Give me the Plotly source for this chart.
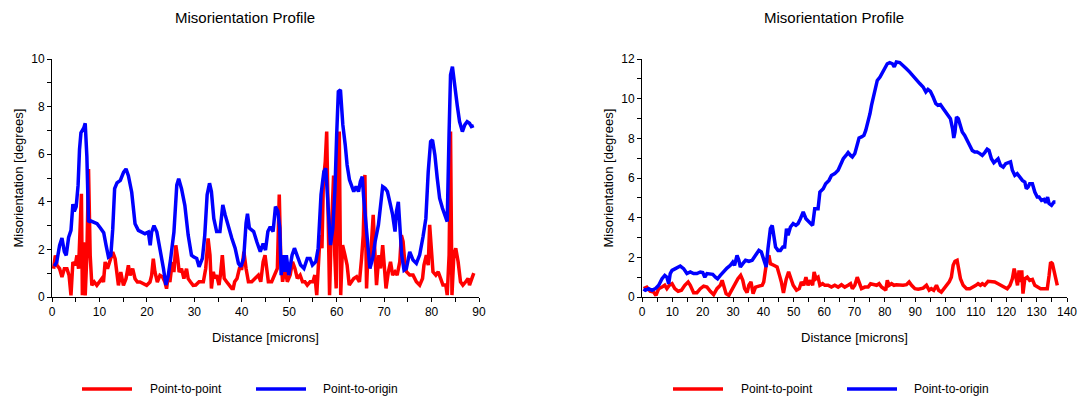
import plotly.graph_objects as go

# ---------------- Data ----------------
left_p2o_x = [0.5, 1.0, 1.6, 2.1, 2.6, 3.0, 3.5, 4.0, 4.4, 4.7, 5.1, 5.5, 5.8, 6.1, 6.7, 7.0, 7.35, 7.7, 8.1, 8.8,
              9.5, 10.2, 10.9, 11.4, 11.9, 12.4, 12.8, 13.2, 13.7, 14.4, 15.1, 15.6, 16.1, 16.8, 17.5, 18.2, 18.9,
              19.6, 20.3, 20.7, 21.0, 21.5, 22.1, 22.8, 23.5, 24.0, 24.5, 25.0, 25.7, 26.3, 26.7, 27.3, 28.0, 28.7,
              29.4, 29.9, 30.5, 31.0, 31.7, 32.2, 32.7, 33.2, 33.6, 34.1, 34.7, 35.4, 36.0, 36.5, 37.2, 37.9, 38.6,
              39.3, 39.8, 40.4, 40.9, 41.2, 41.6, 42.5, 43.2, 43.9, 44.5, 45.0, 45.5, 46.0, 46.6, 47.1, 47.6, 48.0,
              48.3, 48.7, 49.1, 49.4, 49.9, 50.6, 51.1, 51.7, 52.4, 53.1, 53.8, 54.4, 54.9, 55.6, 56.1, 56.7, 57.3,
              57.7, 58.1, 58.7, 59.2, 59.65, 60.0, 60.35, 60.8, 61.3, 61.8, 62.2, 62.7, 63.2, 63.6, 64.1, 64.6, 65.0,
              65.4, 65.7, 66.2, 66.7, 67.0, 67.6, 68.1, 68.8, 69.25, 69.7, 70.2, 70.7, 71.2, 71.8, 72.3, 72.6, 73.0,
              73.3, 73.7, 74.2, 74.7, 75.4, 76.1, 76.8, 77.5, 78.2, 78.8, 79.3, 79.8, 80.2, 80.7, 81.2, 81.7, 82.3,
              82.8, 83.3, 83.7, 84.0, 84.4, 84.9, 85.4, 85.9, 86.5, 87.0, 87.5, 88.0, 88.4, 88.9]
left_p2o_y = [1.3, 1.47, 2.17, 2.48, 1.9, 1.75, 2.5, 2.8, 3.9, 3.6, 3.8, 4.7, 6.2, 6.9, 7.1, 7.3, 5.9, 3.15, 3.2, 3.15,
              3.08, 2.9, 2.7, 2.17, 1.68, 1.75, 2.85, 4.55, 4.8, 4.9, 5.25, 5.38, 5.1, 4.4, 3.08, 2.8, 2.73,
              2.66, 2.73, 2.17, 2.73, 3.0, 2.73, 2.03, 1.19, 0.5, 0.9, 1.6, 2.73, 4.7, 4.97, 4.55, 3.85, 2.6,
              1.75, 1.68, 1.62, 1.27, 1.62, 2.6, 4.3, 4.78, 4.43, 3.3, 2.75, 2.75, 3.87, 3.45, 2.9, 2.47, 2.05,
              1.41, 1.27, 1.62, 3.1, 3.5, 2.9, 2.75, 2.3, 1.9, 2.25, 1.97, 2.75, 2.95, 2.75, 3.8, 3.6, 2.9,
              0.92, 1.76, 1.06, 1.76, 0.92, 1.76, 2.05, 1.76, 1.34, 1.2, 1.62, 1.62, 1.34, 1.48, 2.05, 4.3, 5.27,
              5.4, 3.87, 2.18, 2.9, 4.57, 6.8, 8.63, 8.7, 7.23, 6.4, 5.55, 4.92, 4.64, 4.43, 4.64, 4.43, 4.85,
              5.06, 4.15, 2.9, 1.77, 1.2, 1.62, 2.32, 3.03, 3.73, 4.64, 4.57, 4.43, 4.0, 3.45, 2.75, 3.59, 4.0,
              2.9, 1.77, 1.13, 1.2, 1.9, 1.55, 1.41, 1.77, 2.53, 3.3, 5.27, 6.53, 6.6, 5.97, 4.99, 4.15, 3.73,
              3.45, 3.17, 6.95, 9.33, 9.68, 8.77, 8.07, 7.37, 6.95, 7.23, 7.37, 7.3, 7.16, 7.2]

left_p2p_x = [0.35, 0.7, 1.05, 1.6, 2.1, 2.6, 3.15, 3.6, 4.0, 4.4, 4.9, 5.25, 5.6, 5.95, 6.2, 6.4, 6.65, 7.0, 7.35,
              7.7, 8.05, 8.4, 8.9, 9.45, 10.0, 10.5, 10.85, 11.2, 11.7, 12.25, 12.8, 13.3, 13.65, 14.0, 14.5, 15.05,
              15.6, 16.1, 16.45, 17.0, 17.5, 18.0, 18.55, 19.25, 19.95, 20.65, 21.0, 21.35, 21.7, 22.2, 22.75,
              23.3, 23.8, 24.15, 24.5, 24.85, 25.35, 25.7, 26.1, 26.5, 26.8, 27.3, 27.8, 28.35, 28.7, 29.2, 29.75,
              30.3, 31.0, 31.9, 32.4, 32.9, 33.3, 33.6, 34.0, 34.3, 34.7, 35.2, 35.5, 35.9, 36.3, 36.8, 37.4, 37.9,
              38.2, 38.5, 39.0, 39.5, 40.0, 40.45, 40.9, 41.4, 42.1, 42.8, 43.5, 44.0, 44.5, 44.9, 45.2, 45.6, 46.3,
              47.0, 47.5, 47.9, 48.2, 48.6, 49.1, 49.6, 50.2, 50.7, 51.2, 51.7, 52.3, 52.8, 53.3, 53.8, 54.4, 55.0,
              55.4, 55.8, 56.2, 56.5, 56.9, 57.2, 57.6, 57.9, 58.3, 58.5, 58.8, 59.1, 59.35, 59.6, 59.9, 60.1,
              60.55, 60.85, 61.25, 61.75, 62.2, 62.65, 63.15, 63.6, 64.2, 64.8, 65.25, 65.6, 65.95, 66.3, 66.65,
              67.0, 67.35, 67.7, 68.05, 68.4, 68.9, 69.25, 69.7, 70.0, 70.4, 70.9, 71.35, 71.8, 72.3, 72.75, 73.3,
              73.65, 74.0, 74.35, 74.7, 75.4, 76.1, 76.8, 77.5, 78.1, 78.4, 78.9, 79.3, 79.6, 80.0, 80.3, 80.9,
              81.4, 81.9, 82.4, 83.0, 83.3, 83.7, 84.0, 84.3, 84.7, 85.1, 85.6, 86.1, 86.6, 87.2, 87.7, 88.0,
              88.6, 88.9]
left_p2p_y = [1.19, 1.75, 1.33, 1.19, 0.84, 1.19, 1.19, 0.9, 0.07, 1.47, 1.33, 1.75, 1.19, 3.43, 4.34, 0.07, 2.3,
              0.07, 1.75, 5.38, 1.75, 0.49, 0.63, 0.49, 0.63, 0.77, 0.63, 1.47, 1.19, 1.61, 1.89, 1.61, 1.05, 0.49,
              1.05, 0.49, 0.77, 1.33, 0.91, 1.19, 0.77, 0.63, 0.63, 0.56, 0.49, 0.63, 0.91, 1.61, 1.05, 0.63, 0.91,
              0.84, 0.63, 0.35, 0.91, 0.63, 1.47, 1.05, 2.17, 1.61, 1.05, 1.19, 0.77, 1.19, 0.77, 0.63, 0.49,
              0.5, 0.64, 0.64, 1.2, 2.46, 1.76, 0.36, 1.06, 0.78, 0.92, 0.5, 0.92, 1.76, 0.78, 0.64, 0.5, 0.36,
              0.36, 0.64, 0.78, 1.2, 1.2, 1.9, 1.2, 0.64, 0.64, 0.78, 0.92, 0.64, 1.48, 1.76, 1.2, 0.64, 0.64,
              0.92, 1.2, 4.3, 1.76, 0.64, 1.2, 0.64, 0.92, 1.48, 1.2, 0.78, 0.92, 0.64, 0.64, 0.5, 0.64, 0.64,
              0.92, 0.08, 1.76, 2.6, 2.05, 4.85, 5.7, 6.95, 2.33, 0.08, 2.33, 4.0, 5.1, 1.76, 0.36, 3.45,
              6.95, 0.08, 2.18, 1.76, 1.34, 0.5, 0.64, 0.78, 0.85, 0.64, 1.62, 2.6, 5.13, 0.36, 2.05,
              1.2, 2.33, 3.45, 1.9, 0.5, 1.76, 1.2, 2.18, 1.2, 0.36, 1.06, 1.48, 0.92, 1.06, 0.92, 1.48,
              2.6, 2.33, 1.48, 1.06, 0.92, 0.92, 0.64, 0.5, 0.78, 1.34, 1.76, 1.34, 3.03, 2.05, 1.06, 0.92,
              1.06, 0.78, 0.5, 0.5, 0.08, 1.76, 6.95, 0.08, 1.76, 2.05, 1.48, 0.64, 0.5, 0.64, 0.78, 0.5,
              0.78, 1.0]

right_p2o_x = [0.5, 1.1, 2.2, 3.3, 4.4, 5.5, 6.6, 7.5, 8.2, 8.8, 9.3, 9.9, 11.0, 12.6, 13.7, 14.8, 15.9, 17.0, 18.1,
               19.2, 20.0, 20.7, 21.4, 22.3, 23.3, 24.2, 24.9, 25.8, 26.9, 28.0, 29.1, 29.9, 30.5, 31.3, 31.9,
               32.4, 33.2, 34.1, 35.2, 36.3, 37.4, 38.5, 39.3, 40.1, 40.9, 41.5, 42.3, 42.9, 43.4, 44.0, 44.8,
               45.6, 46.4, 47.0, 47.6, 48.1, 48.9, 49.8, 50.7, 51.4, 52.2, 53.1, 54.0, 55.1, 56.2, 56.9, 58.0,
               58.6, 59.7, 60.5, 61.6, 62.4, 63.5, 64.6, 65.4, 66.3, 67.4, 67.9, 68.7, 69.3, 70.1, 70.9, 71.5,
               72.3, 73.1, 73.7, 74.5, 75.1, 75.6, 76.2, 76.7, 77.5, 78.4, 79.2, 80.0, 80.8, 81.6, 82.5, 83.1,
               83.8, 84.9, 86.0, 87.1, 88.2, 89.3, 90.4, 91.5, 92.6, 93.5, 94.2, 95.0, 95.9, 96.8, 97.5, 98.3,
               99.2, 100.1, 100.8, 101.6, 102.3, 102.7, 103.1, 103.6, 104.2, 104.9, 105.5, 106.3, 107.1, 108.0,
               108.8, 109.6, 110.4, 111.3, 112.1, 112.9, 113.7, 114.3, 115.1, 115.9, 116.5, 117.3, 118.1, 119.0,
               119.8, 120.6, 121.4, 122.0, 122.8, 123.6, 124.5, 125.3, 126.1, 126.6, 127.2, 127.7, 128.6, 129.4,
               130.2, 130.8, 131.6, 132.4, 133.0, 133.6, 134.1, 134.9, 135.7, 136.2]
right_p2o_y = [0.4, 0.34, 0.42, 0.34, 0.42, 0.59, 0.92, 1.09, 1.0, 0.67, 1.18, 1.34, 1.43, 1.56, 1.43, 1.18, 1.26,
               1.18, 1.18, 1.26, 1.23, 1.0, 1.18, 1.18, 1.14, 1.0, 0.92, 1.09, 1.29, 1.46, 1.6, 1.76, 1.6, 2.1,
               1.85, 1.51, 1.68, 1.85, 1.8, 1.85, 2.1, 2.35, 2.27, 1.93, 1.51, 2.44, 3.45, 3.61, 3.11, 2.52,
               2.35, 2.35, 2.52, 2.52, 3.45, 3.11, 3.53, 3.7, 3.61, 3.7, 3.95, 4.29, 3.95, 3.78, 3.61, 4.45,
               4.45, 5.29, 5.46, 5.71, 5.88, 6.13, 6.22, 6.39, 6.72, 6.97, 7.18, 7.28, 7.14, 7.06, 7.23, 7.73,
               8.02, 8.07, 8.15, 8.4, 8.82, 9.24, 9.66, 10.08, 10.5, 10.92, 11.09, 11.34, 11.6, 11.76, 11.82,
               11.76, 11.6, 11.85, 11.82, 11.68, 11.51, 11.34, 11.14, 10.92, 10.76, 10.59, 10.34, 10.47, 10.37,
               10.08, 9.75, 9.66, 9.7, 9.5, 9.33, 9.16, 8.99, 8.49, 8.02, 8.32, 9.08, 8.99, 8.66, 8.32, 8.15,
               7.9, 7.65, 7.39, 7.31, 7.31, 7.23, 7.14, 7.28, 7.45, 7.39, 6.97, 6.77, 6.84, 6.97, 6.64, 6.55,
               6.72, 6.77, 6.81, 6.39, 6.13, 6.22, 6.05, 5.88, 5.8, 5.46, 5.55, 5.71, 5.71, 5.29, 5.04, 5.04,
               4.87, 4.92, 4.76, 5.04, 4.71, 4.62, 4.79, 4.79]

right_p2p_x = [0.55, 1.6, 2.7, 3.8, 4.6, 5.5, 6.6, 7.5, 8.2, 9.0, 9.9, 10.8, 11.9, 13.0, 14.1, 15.2, 15.9, 17.0,
               18.1, 19.2, 20.3, 21.4, 22.5, 23.6, 24.7, 25.8, 26.4, 26.9, 27.7, 28.6, 29.5, 30.5, 31.6, 32.5,
               33.2, 33.8, 34.6, 35.2, 35.9, 36.6, 37.4, 38.5, 39.6, 40.1, 40.7, 41.2, 41.8, 42.3, 43.4, 44.5,
               45.3, 45.9, 46.6, 47.5, 48.3, 49.1, 49.8, 50.9, 51.8, 52.5, 53.3, 54.0, 54.7, 55.5, 56.2, 56.7,
               57.3, 58.0, 58.6, 59.5, 60.2, 61.3, 62.4, 63.5, 64.6, 65.7, 66.8, 67.9, 68.7, 69.3, 70.1, 70.9,
               71.5, 72.3, 73.4, 74.5, 75.3, 76.2, 77.3, 78.1, 78.9, 79.7, 80.3, 80.8, 81.4, 82.2, 83.0, 83.8,
               84.9, 86.0, 87.1, 88.0, 88.8, 89.9, 91.0, 92.1, 92.6, 93.7, 94.6, 95.3, 96.1, 97.0, 97.7, 98.6,
               99.4, 100.3, 101.2, 101.9, 102.5, 103.1, 103.8, 104.3, 104.9, 105.8, 106.9, 108.0, 109.1, 110.0,
               110.7, 111.5, 112.1, 112.9, 114.0, 115.1, 116.2, 117.3, 118.4, 119.5, 120.3, 121.2, 122.0, 122.6,
               123.1, 123.7, 124.2, 124.7, 125.1, 125.5, 126.1, 126.9, 127.7, 128.6, 129.4, 130.2, 131.3, 132.4,
               133.5, 134.1, 134.6, 135.2, 135.8, 136.3, 136.8]
right_p2p_y = [0.42, 0.5, 0.29, 0.25, 0.08, 0.42, 0.5, 0.59, 0.42, 0.59, 0.67, 0.42, 0.29, 0.34, 0.59, 0.76, 0.59,
               0.22, 0.22, 0.42, 0.55, 0.5, 0.29, 0.12, 0.42, 0.59, 0.84, 0.59, 0.17, 0.08, 0.34, 0.59, 0.92,
               1.09, 0.84, 0.42, 0.22, 0.59, 0.76, 0.17, 0.5, 0.55, 0.59, 0.76, 1.43, 1.93, 2.1, 1.68, 1.6,
               1.51, 1.09, 0.76, 0.2, 0.9, 1.27, 0.9, 0.59, 0.34, 0.42, 0.76, 0.59, 1.0, 0.59, 0.84, 0.59,
               1.26, 0.92, 1.0, 0.59, 0.67, 0.59, 0.59, 0.5, 0.59, 0.5, 0.62, 0.5, 0.59, 0.67, 0.42, 0.59,
               1.0, 0.76, 0.42, 0.5, 0.5, 0.67, 0.62, 0.59, 0.67, 0.5, 0.42, 0.34, 0.84, 0.59, 0.67, 0.59,
               0.62, 0.59, 0.59, 0.62, 0.76, 0.59, 0.42, 0.39, 0.42, 0.45, 0.59, 0.34, 0.42, 0.34, 0.59, 0.34,
               0.25, 0.42, 0.59, 0.76, 1.0, 1.6, 1.8, 1.85, 1.43, 0.92, 0.59, 0.42, 0.42, 0.5, 0.59, 0.67,
               0.59, 0.67, 0.59, 0.79, 0.79, 0.76, 0.67, 0.59, 0.5, 0.42, 0.59, 0.92, 1.43, 1.0, 0.59, 1.34,
               0.76, 1.34, 0.17, 0.92, 1.0, 0.84, 0.89, 0.59, 0.5, 0.42, 0.42, 0.42, 1.09, 1.76, 1.68, 1.26,
               0.92, 0.59]

series_names = ["Point-to-point", "Point-to-origin"]
chart_title = "Misorientation Profile"
x_title = "Distance [microns]"
y_title = "Misorientation [degrees]"

# ---------------- Styling ----------------
W, H = 1080, 398
RED = "#FF0000"
BLUE = "#0000FF"
FONT = "Liberation Sans, Arial, sans-serif"
LW = 3.5


def px(x):
    return x / W


def py(y):
    return (H - y) / H


fig = go.Figure()
fig.add_trace(go.Scatter(x=left_p2p_x, y=left_p2p_y, mode="lines", name=series_names[0],
                         line=dict(color=RED, width=LW), xaxis="x", yaxis="y", showlegend=False))
fig.add_trace(go.Scatter(x=left_p2o_x, y=left_p2o_y, mode="lines", name=series_names[1],
                         line=dict(color=BLUE, width=LW), xaxis="x", yaxis="y", showlegend=False))
fig.add_trace(go.Scatter(x=right_p2p_x, y=right_p2p_y, mode="lines", name=series_names[0],
                         line=dict(color=RED, width=LW), xaxis="x2", yaxis="y2", showlegend=False))
fig.add_trace(go.Scatter(x=right_p2o_x, y=right_p2o_y, mode="lines", name=series_names[1],
                         line=dict(color=BLUE, width=LW), xaxis="x2", yaxis="y2", showlegend=False))

axis_common = dict(showline=True, linecolor="#000000", linewidth=1, ticks="outside", ticklen=4,
                   tickcolor="#000000", tickwidth=1, showgrid=False, zeroline=False, automargin=False,
                   tickfont=dict(family=FONT, size=12, color="#000000"), fixedrange=True)
minor_x = dict(dtick=5, ticks="outside", ticklen=4, tickcolor="#000000", showgrid=False)
minor_y = dict(dtick=1, ticks="outside", ticklen=4, tickcolor="#000000", showgrid=False)

ydom = [py(297), py(59)]
fig.update_layout(
    template="none",
    width=W, height=H,
    margin=dict(l=0, r=0, t=0, b=0),
    paper_bgcolor="white", plot_bgcolor="white",
    showlegend=False,
    xaxis=dict(domain=[px(52), px(479)], range=[0, 90], anchor="y", tick0=0, dtick=10, minor=minor_x,
               **axis_common),
    yaxis=dict(domain=ydom, range=[0, 10], anchor="x", tick0=0, dtick=2, minor=minor_y, **axis_common),
    xaxis2=dict(domain=[px(642), px(1067)], range=[0, 140], anchor="y2", tick0=0, dtick=10, minor=minor_x,
                **axis_common),
    yaxis2=dict(domain=ydom, range=[0, 12], anchor="x2", tick0=0, dtick=2, minor=minor_y, **axis_common),
)

annotations = []


def text_ann(text, x, y, size=12, angle=0, xanchor="center"):
    annotations.append(dict(text=text, x=px(x), y=py(y), xref="paper", yref="paper", showarrow=False,
                            xanchor=xanchor, yanchor="middle", textangle=angle,
                            font=dict(family=FONT, size=size, color="#000000")))


# chart titles
text_ann(chart_title, 245, 17, size=15)
text_ann(chart_title, 834, 17, size=15)
# axis titles
text_ann(x_title, 265, 337, size=13)
text_ann(x_title, 854, 337, size=13)
text_ann(y_title, 17.5, 178, size=13, angle=-90)
text_ann(y_title, 607.5, 178, size=13, angle=-90)

# legends (one per chart)
shapes = []
legend_layout = [
    (82, 132, 148, 256, 306, 321),
    (673, 723, 739, 847, 897, 912),
]
for (r0, r1, rt, b0, b1, bt) in legend_layout:
    shapes.append(dict(type="line", xref="paper", yref="paper", x0=px(r0), x1=px(r1), y0=py(389), y1=py(389),
                       line=dict(color=RED, width=LW)))
    shapes.append(dict(type="line", xref="paper", yref="paper", x0=px(b0), x1=px(b1), y0=py(389), y1=py(389),
                       line=dict(color=BLUE, width=LW)))
    text_ann(series_names[0], rt, 389, size=12, xanchor="left")
    text_ann(series_names[1], bt, 389, size=12, xanchor="left")

fig.update_layout(annotations=annotations, shapes=shapes)

# remove the default page margin so the 1080x398 figure fills the window exactly
fig.write_html("out.html",
               config={"displayModeBar": False},
               post_script="document.body.style.margin='0';document.body.style.overflow='hidden';")
